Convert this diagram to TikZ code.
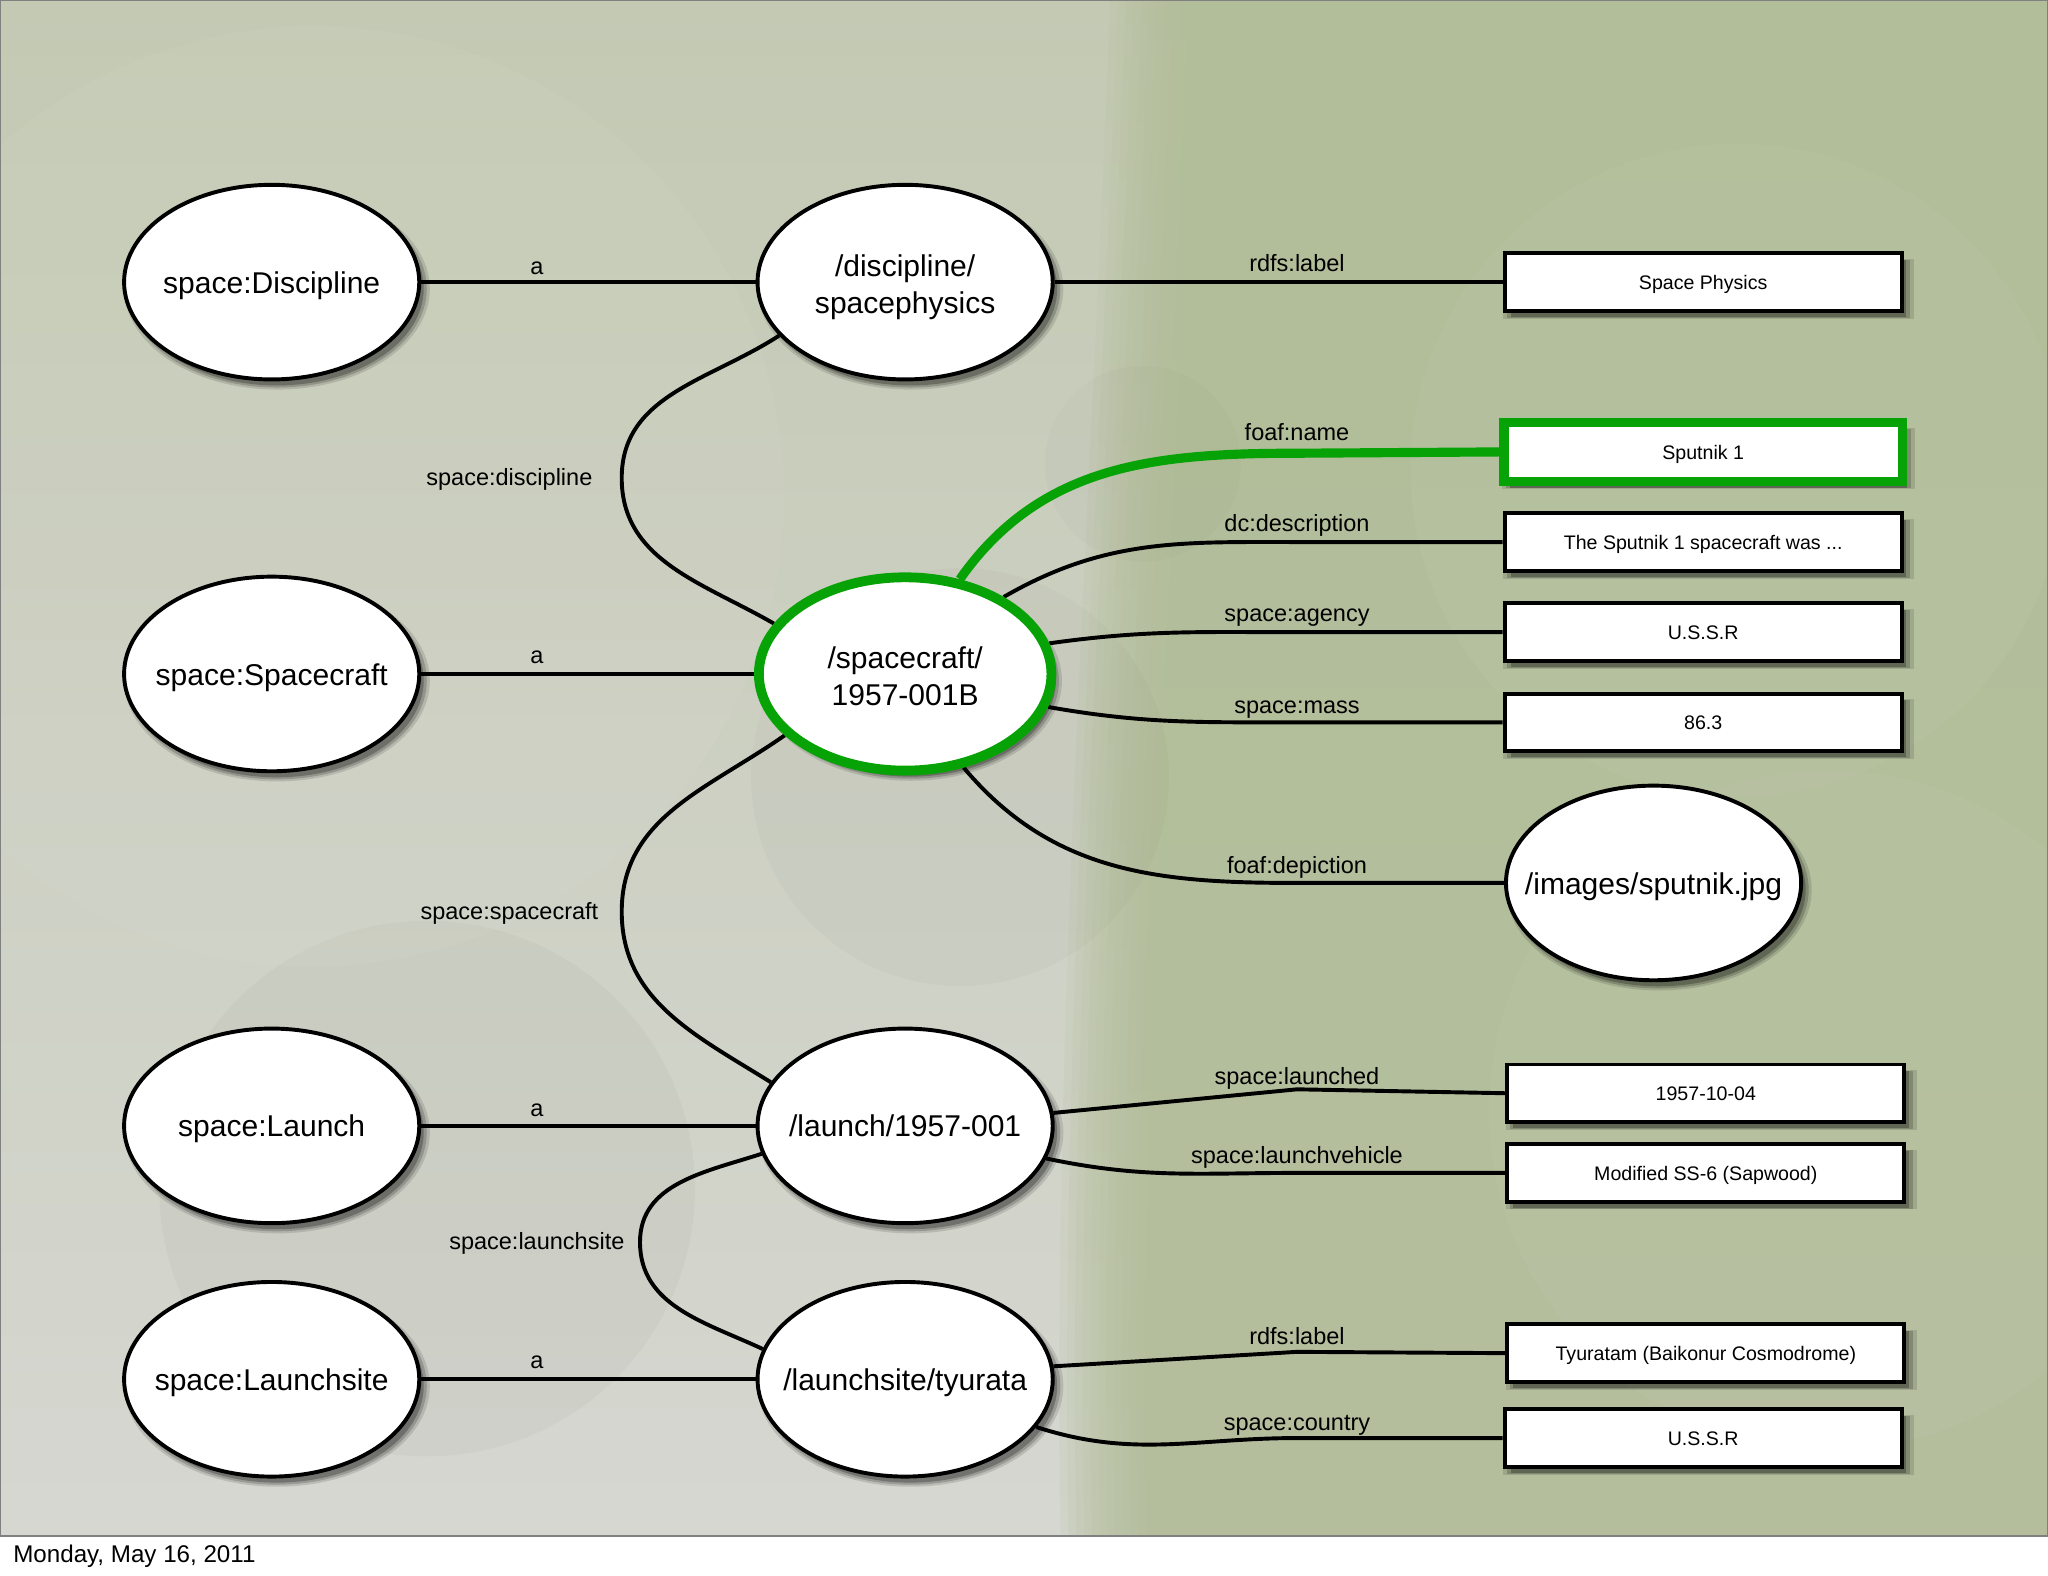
\documentclass[tikz,border=0pt]{standalone}
\usepackage{fontspec}
\setmainfont{Liberation Sans}
\usetikzlibrary{shapes.geometric,shadows}
\pgfdeclarelayer{bg}
\pgfdeclarelayer{edges}
\pgfsetlayers{bg,edges,main}
\definecolor{hlgreen}{RGB}{6,162,6}
\definecolor{bgtop}{RGB}{195,201,179}
\definecolor{bgbot}{RGB}{214,215,209}
\definecolor{grcol}{RGB}{178,190,152}
\newcommand{\zw}[1]{\makebox[0pt]{\raisebox{-8.5pt}[0pt][0pt]{#1}}}
\newcommand{\zwb}[1]{\makebox[0pt]{\raisebox{-10pt}[0pt][0pt]{#1}}}
\newcommand{\bt}[1]{\raisebox{-5.5pt}[0pt][0pt]{#1}}
\begin{document}
\begin{tikzpicture}[x=1pt,y=1pt,
  sh/.style={
    drop shadow={shadow xshift=4pt,shadow yshift=-5pt,shadow scale=1.035,opacity=0.12,fill=black},
    drop shadow={shadow xshift=4pt,shadow yshift=-5pt,shadow scale=1.015,opacity=0.18,fill=black},
    drop shadow={shadow xshift=4pt,shadow yshift=-5pt,shadow scale=0.995,opacity=0.25,fill=black}},
  res/.style={ellipse,draw=black,line width=3pt,fill=white,minimum width=226pt,minimum height=149pt,inner sep=0pt,font=\fontsize{23}{28}\selectfont,align=center,sh},
  hlres/.style={res,draw=hlgreen,line width=7.5pt,minimum width=224pt,minimum height=148pt},
  lit/.style={rectangle,draw=black,line width=3pt,fill=white,minimum width=304pt,minimum height=44pt,inner sep=0pt,font=\fontsize{15}{18}\selectfont,sh},
  hllit/.style={lit,draw=hlgreen,line width=7pt,minimum width=305pt,minimum height=45pt},
  edge/.style={line width=3pt,draw=black},
  hledge/.style={line width=7pt,draw=hlgreen},
  lbl/.style={font=\fontsize{18}{21}\selectfont,anchor=base,inner sep=0pt},
]
\useasboundingbox (0,0) rectangle (1568,-1206.6);
\begin{pgfonlayer}{bg}
  \fill[white] (0,0) rectangle (1568,-1206.6);
  \shade[top color=bgtop,bottom color=bgbot] (0,0) rectangle (1568,-1176);
  \foreach \s in {0,6,...,66}{
    \fill[grcol,opacity=0.15] ([xshift=\s] 850,0) .. controls ([xshift=\s] 835,-400) and ([xshift=\s] 805,-800) .. ([xshift=\s] 812,-1176) -- (1568,-1176) -- (1568,0) -- cycle;
  }
  \fill[black,opacity=0.028] (327,-910) circle (205);
  \fill[black,opacity=0.018] (735,-595) circle (160);
  \fill[white,opacity=0.04] (240,-380) circle (360);
  \fill[white,opacity=0.035] (1400,-850) circle (260);
  \fill[white,opacity=0.03] (1330,-360) circle (250);
  \fill[black,opacity=0.015] (875,-355) circle (75);
  \draw[gray,line width=1.5pt] (0,0) rectangle (1568,-1176);
\end{pgfonlayer}

% resource nodes
\node[res] (dC) at (208,-216) {\zw{space:Discipline}};
\node[res] (dp) at (693,-216) {\zwb{/discipline/}\\\zwb{spacephysics}};
\node[res] (sC) at (208,-516) {\zw{space:Spacecraft}};
\node[hlres] (sc) at (693,-516) {\zwb{/spacecraft/}\\\zwb{1957-001B}};
\node[res] (lC) at (208,-862) {\zw{space:Launch}};
\node[res] (la) at (693,-862) {\zw{/launch/1957-001}};
\node[res] (lsC) at (208,-1056) {\zw{space:Launchsite}};
\node[res] (ls) at (693,-1056) {\zw{/launchsite/tyurata}};
\node[res] (img) at (1266,-676) {\zw{/images/sputnik.jpg}};

% literal nodes
\node[lit] (spb) at (1304,-216) {\bt{Space Physics}};
\node[hllit] (snb) at (1304,-346) {\bt{Sputnik 1}};
\node[lit] (dcb) at (1304,-415) {\bt{The Sputnik 1 spacecraft was ...}};
\node[lit] (agb) at (1304,-484) {\bt{U.S.S.R}};
\node[lit] (msb) at (1304,-553) {\bt{86.3}};
\node[lit] (ldb) at (1306,-837) {\bt{1957-10-04}};
\node[lit] (lvb) at (1306,-898) {\bt{Modified SS-6 (Sapwood)}};
\node[lit] (lbb) at (1306,-1036) {\bt{Tyuratam (Baikonur Cosmodrome)}};
\node[lit] (cob) at (1304,-1101) {\bt{U.S.S.R}};

\begin{pgfonlayer}{edges}
  \draw[edge] (dC) -- (dp);
  \draw[edge] (sC) -- (sc);
  \draw[edge] (lC) -- (la);
  \draw[edge] (lsC) -- (ls);
  \draw[edge] (dp) -- (spb);
  \draw[hledge] (sc.60) to[out=55,in=180] (993,-347) -- (snb.west);
  \draw[edge] (sc.38) to[out=30,in=180] (993,-415) -- (dcb.west);
  \draw[edge] (sc.12) to[out=8,in=180] (993,-484) -- (agb.west);
  \draw[edge] (sc.-13) to[out=-10,in=180] (993,-553) -- (msb.west);
  \draw[edge] (sc.-58) to[out=-50,in=180] (993,-676) -- (img.west);
  \draw[edge] (la.5) -- (993,-834) -- (ldb.west);
  \draw[edge] (la.-13) to[out=-12,in=180] (993,-898) -- (lvb.west);
  \draw[edge] (ls.5) -- (993,-1035) -- (lbb.west);
  \draw[edge] (ls.-20) to[out=-18,in=180] (993,-1101) -- (cob.west);
  \draw[edge] (dp.203) to[out=213,in=90] (476,-366) to[out=-90,in=150] (sc.159);
  \draw[edge] (sc.207) to[out=215,in=90] (476,-698) to[out=-90,in=148] (la.162);
  \draw[edge] (la.191) to[out=198,in=90] (490,-951) to[out=-90,in=155] (ls.168);
\end{pgfonlayer}

% edge labels
\node[lbl] (a1) at (411,-210) {a};
\node[lbl] (a2) at (411,-508) {a};
\node[lbl] (a3) at (411,-855) {a};
\node[lbl] (a4) at (411,-1048) {a};
\node[lbl] (l1) at (993,-208) {rdfs:label};
\node[lbl] (l2) at (993,-337) {foaf:name};
\node[lbl] (l3) at (993,-407) {dc:description};
\node[lbl] (l4) at (993,-476) {space:agency};
\node[lbl] (l5) at (993,-546) {space:mass};
\node[lbl] (l6) at (993,-669) {foaf:depiction};
\node[lbl] (l7) at (993,-830) {space:launched};
\node[lbl] (l8) at (993,-891) {space:launchvehicle};
\node[lbl] (l9) at (993,-1029) {rdfs:label};
\node[lbl] (l10) at (993,-1095) {space:country};
\node[lbl] (l11) at (390,-372) {space:discipline};
\node[lbl] (l12) at (390,-704) {space:spacecraft};
\node[lbl] (l13) at (411,-957) {space:launchsite};

\node[font=\fontsize{18.5}{22}\selectfont,anchor=base west,inner sep=0pt] (date) at (10,-1196) {Monday, May 16, 2011};
\end{tikzpicture}
\end{document}
